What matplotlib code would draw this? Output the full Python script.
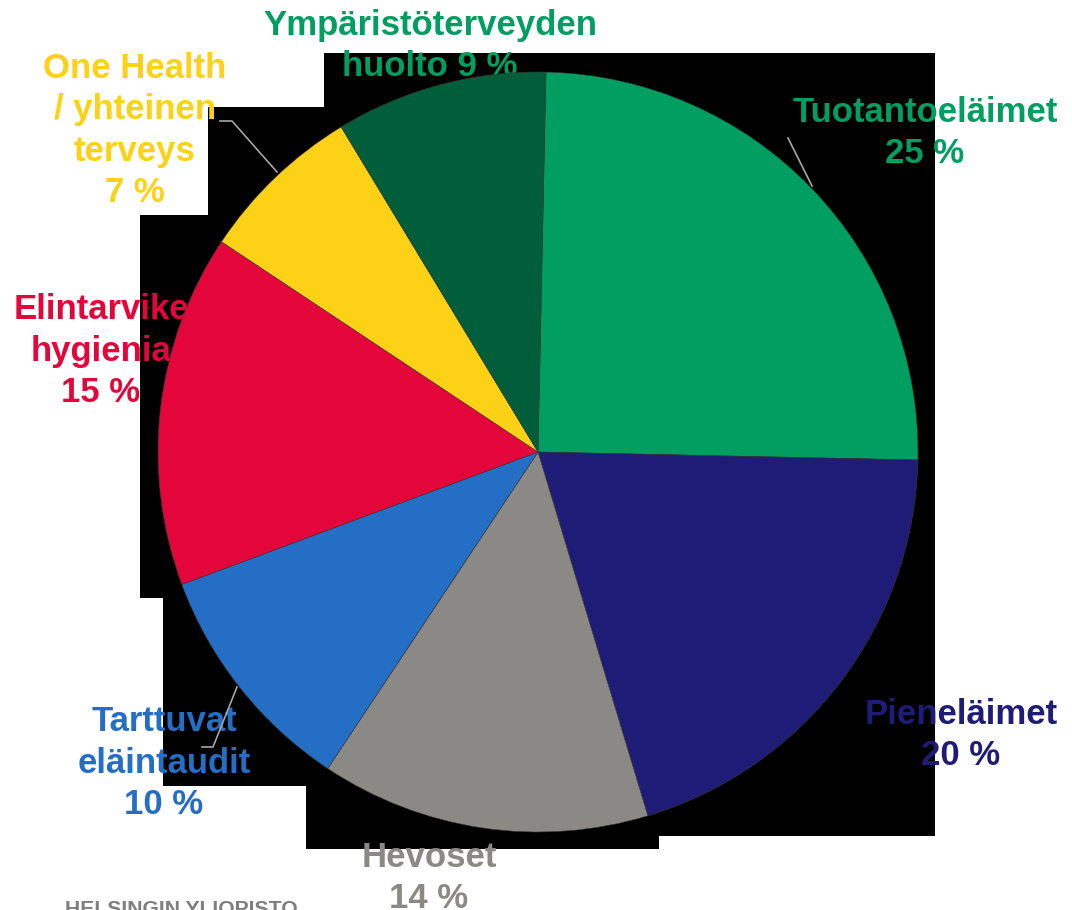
import matplotlib
matplotlib.use("Agg")
import matplotlib.pyplot as plt
from matplotlib.patches import Polygon

# share of teaching / research by field (%)
labels = ["Tuotantoeläimet\n25 %", "Pieneläimet\n20 %", "Hevoset\n14 %",
          "Tarttuvat\neläintaudit\n10 %", "Elintarvike\nhygienia\n15 %",
          "One Health\n/ yhteinen\nterveys\n7 %", "Ympäristöterveyden\nhuolto 9 %"]
values = [25, 20, 14, 10, 15, 7, 9]
colors = ["#009E60", "#1F1C77", "#8A8985", "#246EC6", "#E4063B", "#FCD116", "#005F3A"]
text_colors = ["#009E60", "#1F1C77", "#8A8985", "#246EC6", "#E4063B", "#FCD116", "#009E60"]

W, H = 1072, 910
fig = plt.figure(figsize=(W / 100, H / 100), dpi=100)
ax = fig.add_axes([0, 0, 1, 1])

def py(y):
    # pixel row (from top) -> data y
    return H - y

# black backdrop behind the pie
bg = [(324, 53), (935, 53), (935, 836), (659, 836), (659, 849), (306, 849),
      (306, 786), (163, 786), (163, 598), (140, 598), (140, 215), (208, 215),
      (208, 107), (324, 107)]
ax.add_patch(Polygon([(x, py(y)) for x, y in bg], closed=True, facecolor="black",
                     edgecolor="none", zorder=0))

ax.pie(values, colors=colors, startangle=88.8, counterclock=False,
       center=(538, py(452)), radius=380,
       wedgeprops=dict(linewidth=0.4, edgecolor="#3a3a3a", zorder=2))

# label anchors: (x centre, last-line baseline)
pos = [(925, 163), (961, 765), (429, 908), (164, 814), (101, 402), (135, 202), (430, 76)]
for lab, c, (x, y) in zip(labels, text_colors, pos):
    ax.text(x, py(y), lab, ha="center", va="baseline", color=c, fontsize=25,
            fontweight="bold", family="Liberation Sans", linespacing=1.32, zorder=1)

# leader lines
lc = "#A6A6A6"
ax.plot([220, 232, 277], [py(121), py(121), py(172)], color=lc, lw=1.2, zorder=3)
ax.plot([788, 812], [py(138), py(186)], color=lc, lw=1.2, zorder=3)
ax.plot([237, 213, 202], [py(687), py(747), py(747)], color=lc, lw=1.2, zorder=3)

ax.text(65, py(900), "HELSINGIN YLIOPISTO", ha="left", va="top", color="#7F7F7F",
        fontsize=15.2, fontweight="bold", family="Liberation Sans")

ax.set_xlim(0, W)
ax.set_ylim(0, H)
ax.set_aspect("equal")
ax.axis("off")
fig.savefig("out.png", dpi=100, facecolor="white")
